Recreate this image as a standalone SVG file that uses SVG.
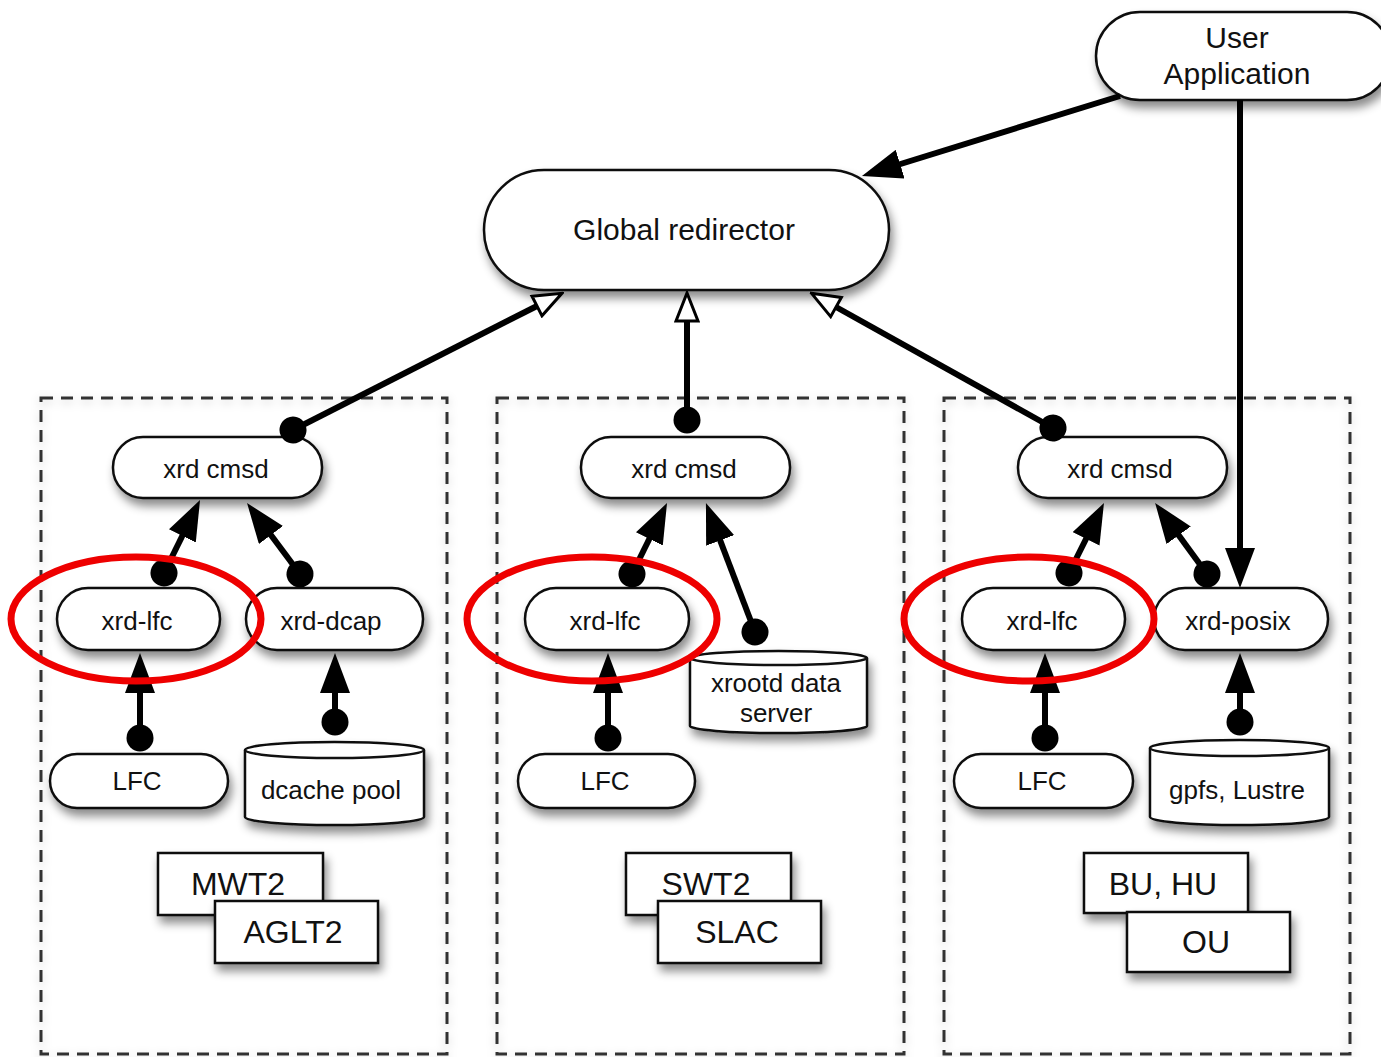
<svg xmlns="http://www.w3.org/2000/svg" width="1381" height="1057" viewBox="0 0 1381 1057">
<style>
  .node { fill: #fff; stroke: #111; stroke-width: 2.5; filter: url(#sh); }
  .panel { fill: none; stroke: #333; stroke-width: 3; stroke-dasharray: 12 8; filter: url(#sh2); }
  .t { font-family: "Liberation Sans", Arial, sans-serif; fill: #111; text-anchor: middle; }
  .s { font-size: 26px; }
  .b { font-size: 32px; }
  .g { font-size: 30px; }
  .c { fill: none; stroke: #000; stroke-width: 6; }
  .f { marker-end: url(#arr); }
  .d { marker-start: url(#dot); }
  .o { marker-end: url(#open); }
  .red { fill: none; stroke: #e00; stroke-width: 7; }
</style>
<defs>
  <filter id="sh" x="-20%" y="-30%" width="140%" height="180%">
    <feDropShadow dx="3" dy="7" stdDeviation="5" flood-color="#000" flood-opacity="0.45"/>
  </filter>
  <filter id="sh2" x="-10%" y="-10%" width="120%" height="120%">
    <feDropShadow dx="0" dy="3" stdDeviation="5" flood-color="#000" flood-opacity="0.2"/>
  </filter>
  <marker id="arr" markerUnits="userSpaceOnUse" viewBox="0 0 40 30" markerWidth="40" markerHeight="30" refX="30" refY="15" orient="auto">
    <path d="M0,0 L40,15 L0,30 Z" fill="#000"/>
  </marker>
  <marker id="open" markerUnits="userSpaceOnUse" viewBox="0 0 32 26" markerWidth="32" markerHeight="26" refX="2" refY="13" orient="auto">
    <path d="M2,2 L30,13 L2,24 Z" fill="#fff" stroke="#000" stroke-width="3"/>
  </marker>
  <marker id="dot" markerUnits="userSpaceOnUse" viewBox="0 0 28 28" markerWidth="28" markerHeight="28" refX="14" refY="14" orient="auto">
    <circle cx="14" cy="14" r="13.5" fill="#000"/>
  </marker>
</defs>
<rect width="1381" height="1057" fill="#fff"/>

<g id="panels">
  <rect class="panel" x="41" y="398" width="406" height="656"/>
  <rect class="panel" x="497" y="398" width="407" height="656"/>
  <rect class="panel" x="944" y="398" width="406" height="656"/>
</g>

<g id="user-app">
  <rect class="node" x="1096" y="12" width="295" height="88" rx="44"/>
  <text class="t g" x="1237" y="48">User</text>
  <text class="t g" x="1237" y="84">Application</text>
</g>
<g id="global-redirector">
  <rect class="node" x="484" y="170" width="405" height="120" rx="60"/>
  <text class="t g" x="684" y="240">Global redirector</text>
</g>

<!-- Left panel -->
<g id="l-cmsd">
  <rect class="node" x="113" y="437" width="209" height="61" rx="30"/>
  <text class="t s" x="216" y="478">xrd cmsd</text>
</g>
<g id="l-lfc">
  <rect class="node" x="57" y="588" width="163" height="62" rx="31"/>
  <text class="t s" x="137" y="630">xrd-lfc</text>
</g>
<g id="l-dcap">
  <rect class="node" x="246" y="588" width="177" height="62" rx="31"/>
  <text class="t s" x="331" y="630">xrd-dcap</text>
</g>
<g id="l-LFC">
  <rect class="node" x="50" y="754" width="178" height="54" rx="27"/>
  <text class="t s" x="137" y="790">LFC</text>
</g>
<g id="l-dcache">
  <path class="node" d="M245,750 A89.5,8 0 0 1 424,750 L424,817 A89.5,8 0 0 1 245,817 Z"/>
  <path d="M245,750 A89.5,8 0 0 0 424,750" fill="none" stroke="#111" stroke-width="2.5"/>
  <text class="t s" x="331" y="799">dcache pool</text>
</g>
<g id="l-mwt2">
  <rect class="node" x="158" y="853" width="165" height="62"/>
  <text class="t b" x="238" y="895">MWT2</text>
</g>
<g id="l-aglt2">
  <rect class="node" x="215" y="901" width="163" height="62"/>
  <text class="t b" x="293" y="943">AGLT2</text>
</g>

<!-- Middle panel -->
<g id="m-cmsd">
  <rect class="node" x="581" y="437" width="209" height="61" rx="30"/>
  <text class="t s" x="684" y="478">xrd cmsd</text>
</g>
<g id="m-lfc">
  <rect class="node" x="525" y="588" width="164" height="62" rx="31"/>
  <text class="t s" x="605" y="630">xrd-lfc</text>
</g>
<g id="m-xrootd">
  <path class="node" d="M690,658 A88.5,7 0 0 1 867,658 L867,726 A88.5,7 0 0 1 690,726 Z"/>
  <path d="M690,658 A88.5,7 0 0 0 867,658" fill="none" stroke="#111" stroke-width="2.5"/>
  <text class="t s" x="776" y="692">xrootd data</text>
  <text class="t s" x="776" y="722">server</text>
</g>
<g id="m-LFC">
  <rect class="node" x="518" y="754" width="177" height="54" rx="27"/>
  <text class="t s" x="605" y="790">LFC</text>
</g>
<g id="m-swt2">
  <rect class="node" x="626" y="853" width="165" height="62"/>
  <text class="t b" x="706" y="895">SWT2</text>
</g>
<g id="m-slac">
  <rect class="node" x="658" y="901" width="163" height="62"/>
  <text class="t b" x="737" y="943">SLAC</text>
</g>

<!-- Right panel -->
<g id="r-cmsd">
  <rect class="node" x="1018" y="437" width="209" height="61" rx="30"/>
  <text class="t s" x="1120" y="478">xrd cmsd</text>
</g>
<g id="r-lfc">
  <rect class="node" x="962" y="588" width="163" height="62" rx="31"/>
  <text class="t s" x="1042" y="630">xrd-lfc</text>
</g>
<g id="r-posix">
  <rect class="node" x="1154" y="588" width="174" height="62" rx="31"/>
  <text class="t s" x="1238" y="630">xrd-posix</text>
</g>
<g id="r-LFC">
  <rect class="node" x="954" y="754" width="179" height="54" rx="27"/>
  <text class="t s" x="1042" y="790">LFC</text>
</g>
<g id="r-gpfs">
  <path class="node" d="M1150,748 A89.5,8 0 0 1 1329,748 L1329,817 A89.5,8 0 0 1 1150,817 Z"/>
  <path d="M1150,748 A89.5,8 0 0 0 1329,748" fill="none" stroke="#111" stroke-width="2.5"/>
  <text class="t s" x="1237" y="799">gpfs, Lustre</text>
</g>
<g id="r-buhu">
  <rect class="node" x="1084" y="853" width="164" height="60"/>
  <text class="t b" x="1163" y="895">BU, HU</text>
</g>
<g id="r-ou">
  <rect class="node" x="1127" y="912" width="163" height="60"/>
  <text class="t b" x="1206" y="953">OU</text>
</g>

<g id="connectors">
  <line class="c f" x1="1120" y1="96" x2="871.5" y2="173"/>
  <line class="c f" x1="1240" y1="100" x2="1240" y2="578"/>
  <line class="c d o" x1="293" y1="430" x2="537" y2="306"/>
  <line class="c d o" x1="687" y1="420" x2="687" y2="321"/>
  <line class="c d o" x1="1053" y1="428" x2="836" y2="307"/>
  <line class="c d f" x1="164" y1="573" x2="195.6" y2="509"/>
  <line class="c d f" x1="300" y1="574" x2="253" y2="511"/>
  <line class="c d f" x1="140" y1="738" x2="140" y2="663"/>
  <line class="c d f" x1="335" y1="722" x2="335" y2="663"/>
  <line class="c d f" x1="632" y1="574" x2="662.6" y2="512"/>
  <line class="c d f" x1="755" y1="632" x2="709.5" y2="512.4"/>
  <line class="c d f" x1="608" y1="738" x2="608" y2="663"/>
  <line class="c d f" x1="1069" y1="573" x2="1099.5" y2="512"/>
  <line class="c d f" x1="1207" y1="574" x2="1161" y2="511"/>
  <line class="c d f" x1="1045" y1="738" x2="1045" y2="663"/>
  <line class="c d f" x1="1240" y1="722" x2="1240" y2="663"/>
</g>

<g id="highlights">
  <ellipse class="red" cx="136" cy="619" rx="125" ry="62"/>
  <ellipse class="red" cx="592" cy="619" rx="125" ry="62"/>
  <ellipse class="red" cx="1029" cy="619" rx="125" ry="62"/>
</g>
</svg>
